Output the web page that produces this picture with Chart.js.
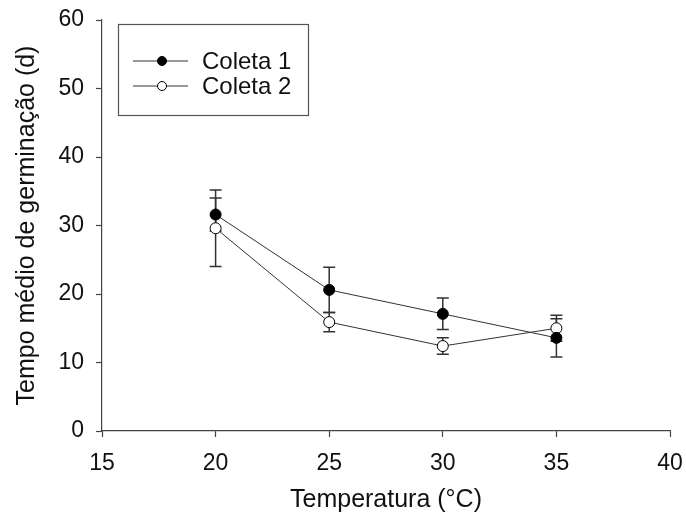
<!DOCTYPE html>
<html>
<head>
<meta charset="utf-8">
<script src="https://cdn.jsdelivr.net/npm/chart.js@4"></script>
<style>
	html, body { margin: 0; padding: 0; background: #fff; }
	#wrap { width: 686px; height: 525px; }
</style>
</head>
<body>
<div id="wrap"><canvas id="grafico"></canvas></div>
<script>
const temperaturas = [20, 25, 30, 35]
const coleta1 = [31.6, 20.6, 17.1, 13.6]
const erro1 = [2.4, 3.3, 2.3, 2.8]
const coleta2 = [29.6, 15.9, 12.4, 15.0]
const erro2 = [5.6, 1.4, 1.2, 1.9]
const nomes = ["Coleta 1", "Coleta 2"]
const tituloX = "Temperatura (°C)"
const tituloY = "Tempo médio de germinação (d)"

const FONTE = "'Liberation Sans', Arial, sans-serif"
const COR_EIXO = "#444"
const COR_TEXTO = "#111"

function pontos(ys) {
	return temperaturas.map((t, i) => ({ x: t, y: ys[i] }))
}

// barras de erro desenhadas antes dos pontos
const barrasErro = {
	id: "barrasErro",
	beforeDatasetsDraw(chart) {
		const ctx = chart.ctx
		const sx = chart.scales.x
		const sy = chart.scales.y
		const erros = [erro1, erro2]
		ctx.save()
		ctx.strokeStyle = "#333"
		ctx.lineWidth = 1.5
		chart.data.datasets.forEach((ds, d) => {
			ds.data.forEach((p, i) => {
				let px = sx.getPixelForValue(p.x)
				let top = sy.getPixelForValue(p.y + erros[d][i])
				let bot = sy.getPixelForValue(p.y - erros[d][i])
				ctx.beginPath()
				ctx.moveTo(px, top)
				ctx.lineTo(px, bot)
				ctx.moveTo(px - 6, top)
				ctx.lineTo(px + 6, top)
				ctx.moveTo(px - 6, bot)
				ctx.lineTo(px + 6, bot)
				ctx.stroke()
			})
		})
		ctx.restore()
	},
}

// legenda dentro da area do grafico
const legendaCaixa = {
	id: "legendaCaixa",
	afterDraw(chart) {
		const ctx = chart.ctx
		const a = chart.chartArea
		let x0 = a.left + 16
		let y0 = a.top + 4
		ctx.save()
		ctx.strokeStyle = "#555"
		ctx.lineWidth = 1.2
		ctx.strokeRect(x0 + 0.5, y0 + 0.5, 190, 91)
		ctx.font = "24px " + FONTE
		ctx.textBaseline = "middle"
		ctx.fillStyle = COR_TEXTO
		chart.data.datasets.forEach((ds, i) => {
			let y = y0 + 37 + i * 25
			ctx.strokeStyle = "#333"
			ctx.lineWidth = 1
			ctx.beginPath()
			ctx.moveTo(x0 + 15, y)
			ctx.lineTo(x0 + 70, y)
			ctx.stroke()
			ctx.beginPath()
			ctx.arc(x0 + 44, y, 4.5, 0, Math.PI * 2)
			ctx.fillStyle = ds.pointBackgroundColor
			ctx.fill()
			ctx.strokeStyle = "#000"
			ctx.stroke()
			ctx.fillStyle = COR_TEXTO
			ctx.fillText(nomes[i], x0 + 84, y + 1)
		})
		ctx.restore()
	},
}

const config = {
	type: "scatter",
	data: {
		datasets: [
			{
				label: nomes[0],
				data: pontos(coleta1),
				showLine: true,
				borderColor: "#333",
				borderWidth: 1,
				pointRadius: 5.5,
				pointBackgroundColor: "#000",
				pointBorderColor: "#000",
				pointBorderWidth: 1,
			},
			{
				label: nomes[1],
				data: pontos(coleta2),
				showLine: true,
				borderColor: "#333",
				borderWidth: 1,
				pointRadius: 5.5,
				pointBackgroundColor: "#fff",
				pointBorderColor: "#000",
				pointBorderWidth: 1,
			},
		],
	},
	options: {
		responsive: true,
		maintainAspectRatio: false,
		animation: false,
		layout: { padding: { left: 0, right: 16, top: 20, bottom: 0 } },
		plugins: {
			legend: { display: false },
			tooltip: { enabled: false },
		},
		scales: {
			x: {
				type: "linear",
				min: 15,
				max: 40,
				afterFit(s) {
					s.height = 94
					s.paddingLeft = 0
					s.paddingRight = 0
				},
				ticks: { stepSize: 5, color: COR_TEXTO, font: { family: FONTE, size: 23 }, padding: 13, maxRotation: 0 },
				grid: { drawOnChartArea: false, tickLength: 6, tickColor: COR_EIXO, tickWidth: 1.2 },
				border: { display: true, color: COR_EIXO, width: 1.2 },
				title: { display: true, text: tituloX, color: COR_TEXTO, font: { family: FONTE, size: 25 }, padding: { top: 0, bottom: 10 } },
			},
			y: {
				type: "linear",
				min: 0,
				max: 60,
				afterFit(s) {
					s.width = 102
					s.paddingTop = 0
					s.paddingBottom = 0
				},
				ticks: { stepSize: 10, color: COR_TEXTO, font: { family: FONTE, size: 23 }, padding: 12 },
				grid: { drawOnChartArea: false, tickLength: 6, tickColor: COR_EIXO, tickWidth: 1.2 },
				border: { display: true, color: COR_EIXO, width: 1.2 },
				title: { display: true, text: tituloY, color: COR_TEXTO, font: { family: FONTE, size: 25 }, padding: { top: 12, bottom: 0 } },
			},
		},
	},
	plugins: [barrasErro, legendaCaixa],
}

var grafico = new Chart(document.getElementById("grafico"), config)
</script>
</body>
</html>
